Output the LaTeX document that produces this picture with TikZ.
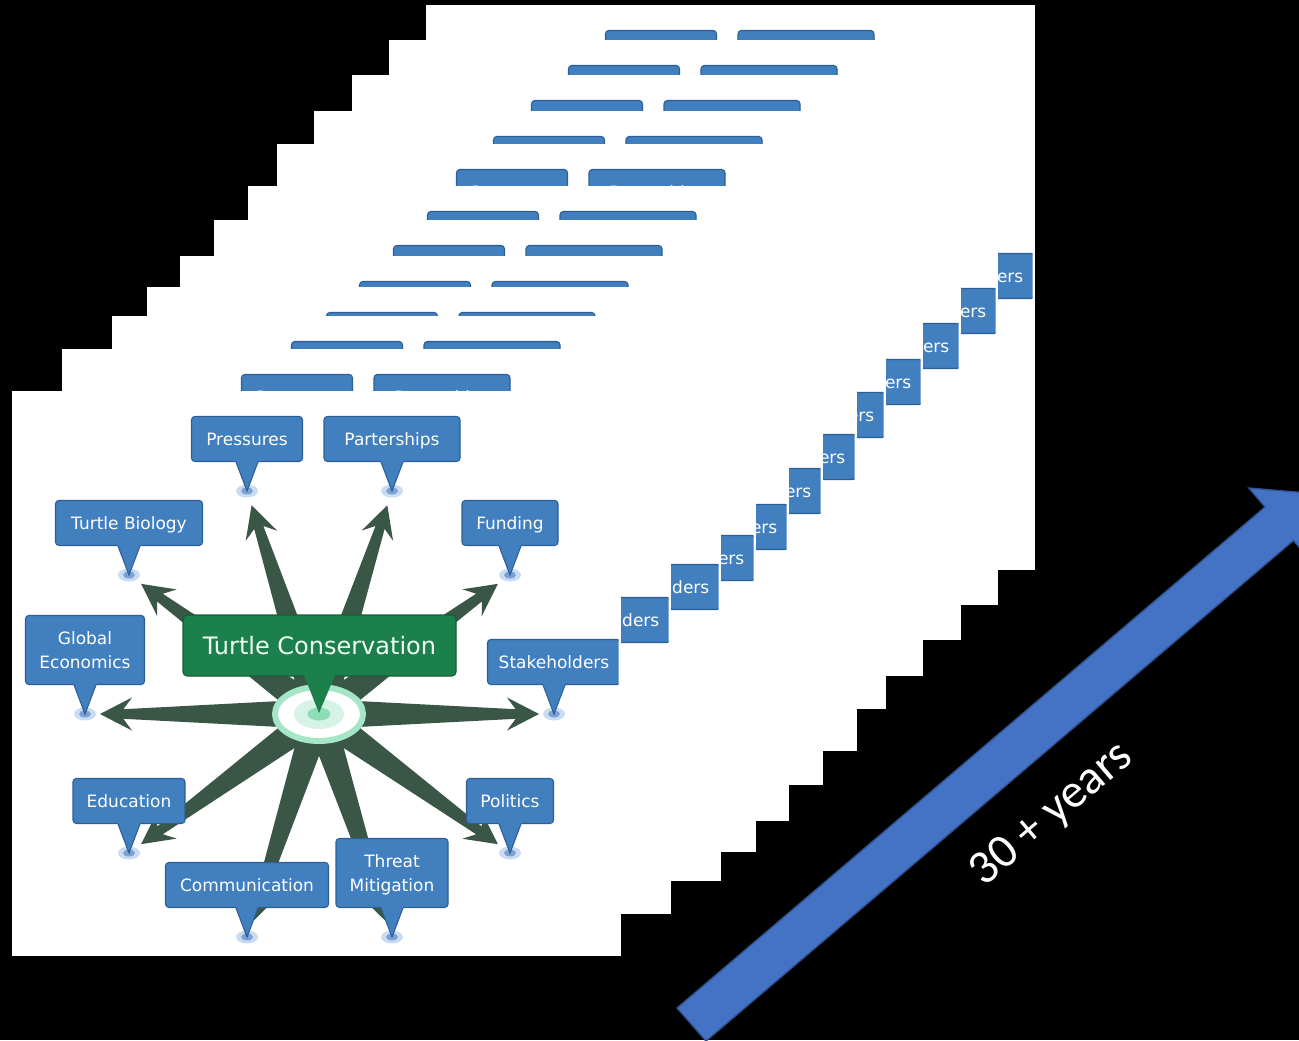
\documentclass[tikz,border=0pt]{standalone}
\usepackage{fontspec}
\setmainfont{DejaVu Sans}
\newfontfamily\yearsfont{Carlito}
\usetikzlibrary{calc,shapes.geometric}

\definecolor{boxblue}{RGB}{65,127,191}
\definecolor{boxblueedge}{RGB}{45,95,150}
\definecolor{pinhalo}{RGB}{202,220,241}
\definecolor{pincore}{RGB}{122,162,212}
\definecolor{arrowgreen}{RGB}{58,86,70}
\definecolor{topicgreen}{RGB}{28,128,76}
\definecolor{topicedge}{RGB}{20,95,55}
\definecolor{ringgreen}{RGB}{166,230,200}
\definecolor{innergreen}{RGB}{214,243,229}
\definecolor{coregreen}{RGB}{142,220,184}
\definecolor{timeblue}{RGB}{68,114,196}
\definecolor{timeedge}{RGB}{47,82,143}

% line strut that keeps every callout label on the same optical centre
\newcommand\lblstrut{\rule[-3.9pt]{0pt}{18pt}}

\tikzset{
  sheet/.style={fill=white},
  pinmark/.style={ellipse, fill=pinhalo, inner sep=0pt, minimum width=16.5pt, minimum height=9.75pt},
  topic/.style={fill=boxblue, draw=boxblueedge, line width=0.8pt, rounded corners=2.5pt,
    text=white, font=\fontsize{12.75pt}{18pt}\selectfont, align=center, inner sep=0pt, anchor=south},
  central/.style={fill=topicgreen, draw=topicedge, line width=0.8pt, rounded corners=3pt,
    text={rgb,255:red,240;green,255;blue,240}, font=\fontsize{18pt}{22pt}\selectfont, inner sep=0pt,
    minimum width=204.75pt, minimum height=45.75pt},
  hub/.style={ellipse, fill=white, draw=ringgreen, line width=4.5pt, inner sep=0pt,
    minimum width=66pt, minimum height=40.5pt},
  years/.style={text=white, font=\yearsfont\fontsize{36pt}{40pt}\selectfont, rotate=40.4}
}

% tapered arrow from the hub coordinate #1 towards the pin node #2
\newcommand\mmarrow[2]{%
  \coordinate (t) at ($(#2.center)!11.25pt!(#1)$);
  \coordinate (nk) at ($(t)!17.5pt!(#1)$);
  \coordinate (bb) at ($(t)!24pt!(#1)$);
  \fill[arrowgreen] ($(#1)!11.25pt!90:(t)$) -- ($(nk)!3.6pt!90:(t)$) -- ($(bb)!12.4pt!90:(t)$)
    -- (t) -- ($(bb)!12.4pt!-90:(t)$) -- ($(nk)!3.6pt!-90:(t)$) -- ($(#1)!11.25pt!-90:(t)$) -- cycle;
}

% blue callout: name, pin, width (pt), height (pt), text
\newcommand\topicbox[5]{%
  \node[topic, minimum width=#3pt, minimum height=#4pt] (#1) at ($(#2.center)+(0,-29)$) {#5};
  \fill[boxblue] ($(#1.south)+(-11,-2)$) -- ($(#1.south)+(-11,0)$) -- (#2.center)
    -- ($(#1.south)+(11,0)$) -- ($(#1.south)+(11,-2)$) -- cycle;
  \draw[boxblueedge, line width=0.8pt] ($(#1.south)+(-11,0)$) -- (#2.center) -- ($(#1.south)+(11,0)$);
}

% one slide of the turtle conservation mind map, in slide coordinates
\newcommand\mindmap{%
  \foreach \nm/\qx/\qy in {pPr/235/100, pPa/380/100, pTB/117/184, pFu/498/184, pGE/73/323,
      pSt/542/323, pEd/117/462, pPo/498/462, pCo/235/546, pTM/380/546} {
    \node[pinmark] (\nm) at (\qx,\qy) {};
    \fill[pincore] (\nm.center) ellipse [x radius=6, y radius=3.5];
  }
  \coordinate (ctr) at (307,323);
  \foreach \nm in {pPr, pPa, pTB, pFu, pGE, pSt, pEd, pPo, pCo, pTM} {
    \mmarrow{ctr}{\nm}
  }
  \node[hub] (hubring) at (ctr) {};
  \fill[innergreen] (hubring.center) ellipse [x radius=25, y radius=15];
  \fill[coregreen] (hubring.center) ellipse [x radius=11.5, y radius=6.5];
  \topicbox{bPr}{pPr}{83.25}{33.75}{\lblstrut Pressures}
  \topicbox{bPa}{pPa}{102}{33.75}{\lblstrut Parterships}
  \topicbox{bTB}{pTB}{110.25}{33.75}{\lblstrut Turtle Biology}
  \topicbox{bFu}{pFu}{72}{33.75}{\lblstrut Funding}
  \topicbox{bGE}{pGE}{89.25}{51.75}{\lblstrut Global\\\lblstrut Economics}
  \topicbox{bSt}{pSt}{99.75}{33.75}{\lblstrut Stakeholders}
  \topicbox{bEd}{pEd}{84}{33.75}{\lblstrut Education}
  \topicbox{bPo}{pPo}{65.25}{33.75}{\lblstrut Politics}
  \topicbox{bCo}{pCo}{122.25}{33.75}{\lblstrut Communication}
  \topicbox{bTM}{pTM}{84}{51.75}{\lblstrut Threat\\\lblstrut Mitigation}
  \node[central] (tc) at (307.5,254.5) {Turtle Conservation};
  \fill[topicgreen] ($(tc.south)+(-15,-2)$) -- ($(tc.south)+(-15,0)$) -- ($(hubring.center)+(0,-1)$)
    -- ($(tc.south)+(15,0)$) -- ($(tc.south)+(15,-2)$) -- cycle;
}

\begin{document}
\begin{tikzpicture}[x=0.75pt, y=-0.75pt]
  \fill[black] (0,0) rectangle (1299,1040);
  \useasboundingbox (0,0) rectangle (1299,1040);

  % stack of slides, back to front; the map image stops just short of the slide edge
  \foreach \sx/\sy in {426/5, 389/40, 352/75, 314/111, 277/144, 248/186, 214/220,
      180/256, 147/287, 112/316, 62/349, 12/391} {
    \begin{scope}[shift={(\sx,\sy)}]
      \path[sheet] (0,0) rectangle (609,565);
      \clip (0,0) rectangle (606.5,565);
      \mindmap
    \end{scope}
  }

  % time arrow
  \begin{scope}
    \clip (0,0) rectangle (1299,1040);
    \coordinate (tailU) at (677,1008);
    \coordinate (tailL) at (706,1041);
    \coordinate (notchU) at (1265,507);
    \coordinate (notchL) at (1293.5,540.5);
    \coordinate (barbU) at (1248.8,488);
    \coordinate (barbL) at (1309.7,559.6);
    \coordinate (tip) at (1314.8,493.5);
    \filldraw[fill=timeblue, draw=timeedge, line width=1pt]
      (tailU) -- (notchU) -- (barbU) -- (tip) -- (barbL) -- (notchL) -- (tailL) -- cycle;
  \end{scope}
  \node[years] (yrs) at (1052,815) {30 + years};
\end{tikzpicture}
\end{document}
